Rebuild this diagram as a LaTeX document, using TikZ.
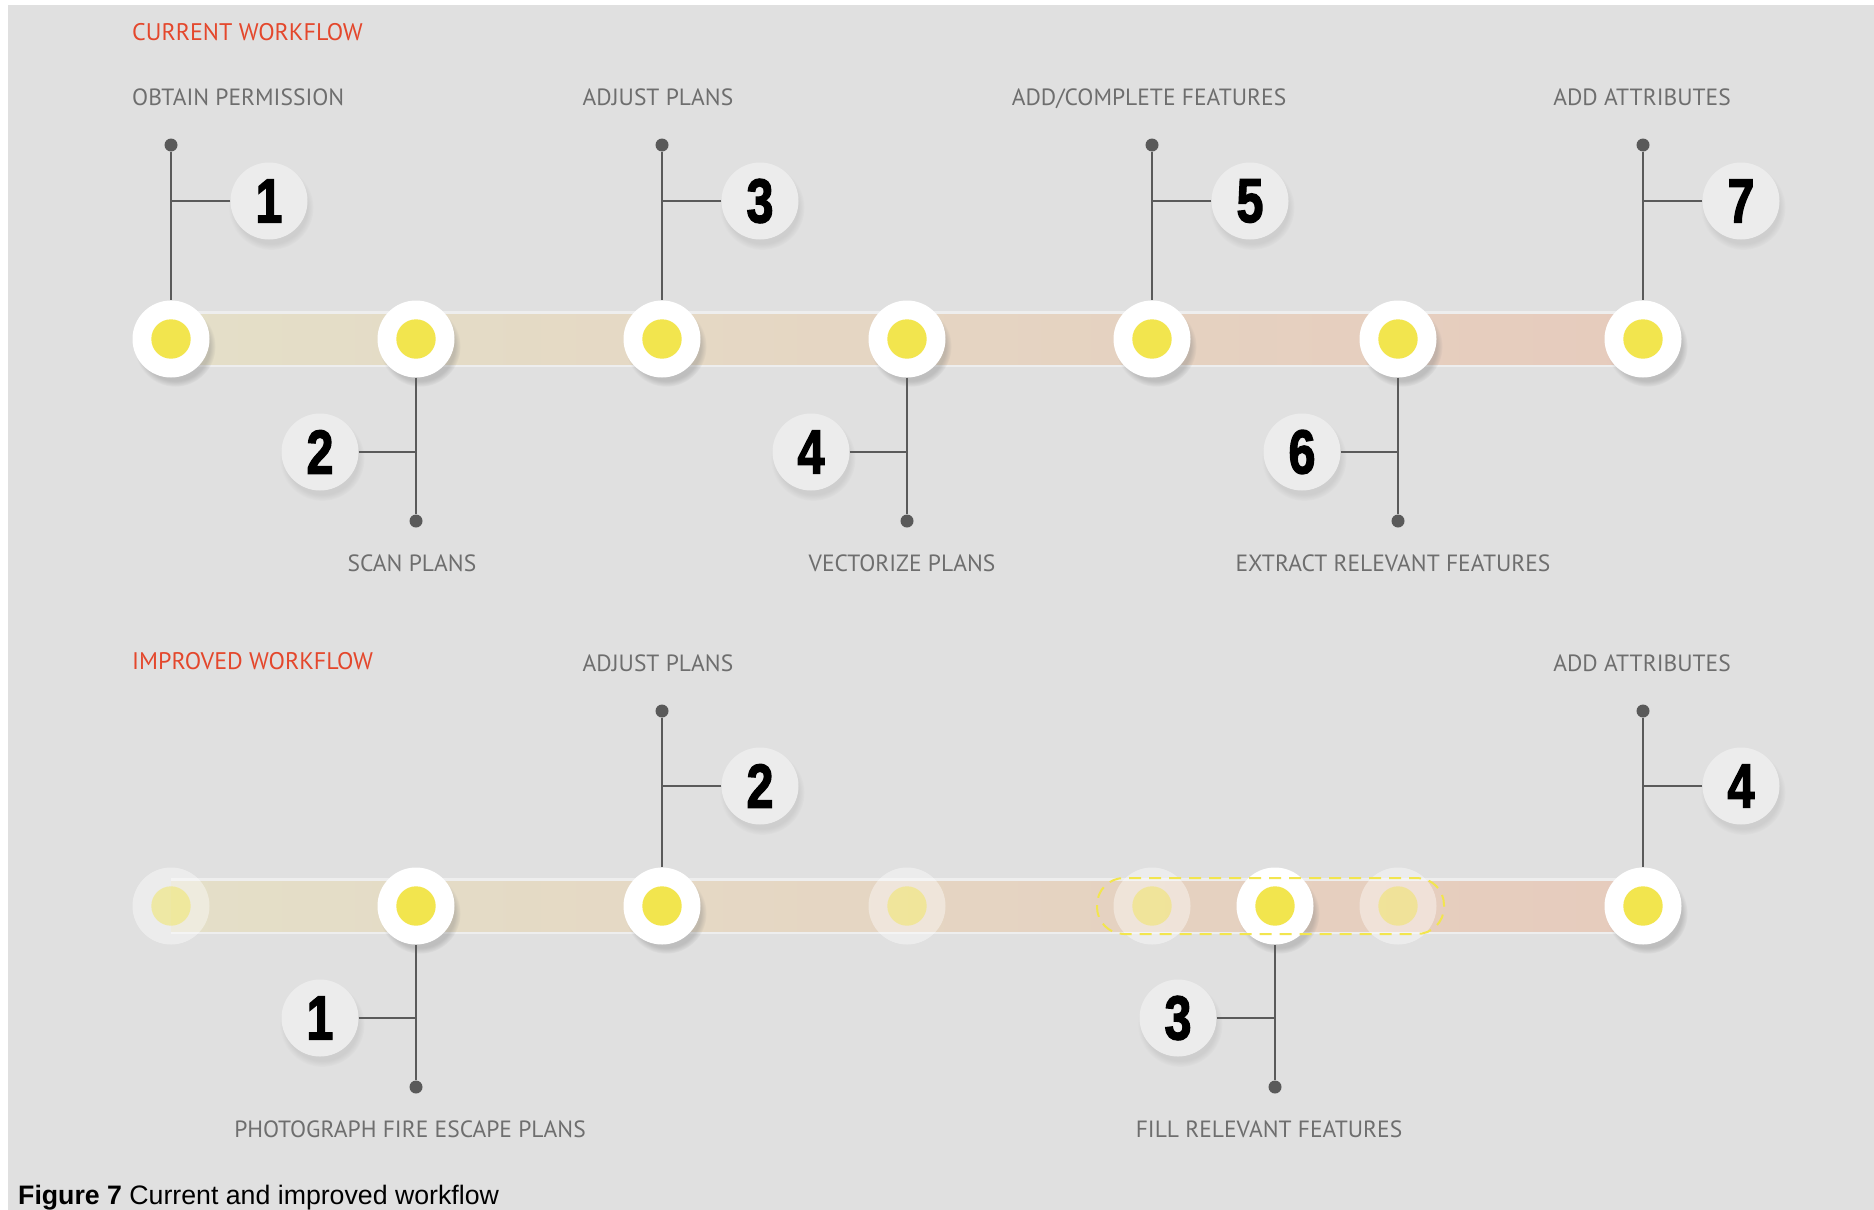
\documentclass[tikz,border=0pt]{standalone}
\usepackage{fontspec}
\usetikzlibrary{shadows,fadings}
\newfontfamily\labelfont{PT Sans}
\newfontfamily\numfont{Liberation Sans}[BoldFeatures={FakeBold=2.5}]
\newfontfamily\capfont{Liberation Sans}
\definecolor{bggray}{HTML}{E0E0E0}
\definecolor{dotyellow}{HTML}{F2E54E}
\definecolor{linegray}{HTML}{5A5A5A}
\definecolor{labelgray}{HTML}{6E6E6E}
\definecolor{headred}{HTML}{E4472C}
\definecolor{numfill}{HTML}{ECECEC}
\definecolor{bandleft}{HTML}{E4DFC8}
\definecolor{bandmid}{HTML}{E6D6C4}
\definecolor{bandright}{HTML}{E6CBBD}
\newcommand{\stepnum}[1]{\scalebox{.78}[1]{#1}}
\tikzset{
  stopnode/.style={circle,fill=white,minimum size=77pt,inner sep=0pt,
    circular drop shadow={shadow xshift=4pt,shadow yshift=-7pt,opacity=.35,shadow scale=1.05},
    path picture={\fill[dotyellow] (path picture bounding box.center) circle (19.7pt);}},
  fadedstop/.style={circle,fill=white,fill opacity=.4,minimum size=77pt,inner sep=0pt,
    path picture={\fill[dotyellow,fill opacity=.45] (path picture bounding box.center) circle (19.7pt);}},
  numnode/.style={circle,fill=numfill,minimum size=77pt,inner sep=0pt,
    circular drop shadow={shadow xshift=2pt,shadow yshift=-6pt,opacity=.18},
    font=\numfont\bfseries\fontsize{62}{62}\selectfont},
  dotend/.style={circle,fill=linegray,minimum size=13pt,inner sep=0pt},
  steplabel/.style={text=labelgray,inner sep=0pt,text depth=0pt,font=\labelfont\fontsize{23.5}{23.5}\selectfont},
  heading/.style={text=headred,anchor=west,inner sep=0pt,text depth=0pt,font=\labelfont\fontsize{24}{24}\selectfont},
  link/.style={linegray,line width=2.5pt}
}
\begin{document}
\begin{tikzpicture}[x=1pt,y=-1pt]
\useasboundingbox (0,0) rectangle (1874,1210);
\fill[bggray] (8,5) rectangle (1874,1210);
% bands
\fill[white!45!bggray] (171,311) rectangle (1643,367);
\shade[left color=bandleft,middle color=bandmid,right color=bandright] (171,314) rectangle (1643,364);
\fill[white!45!bggray] (171,878) rectangle (1643,934);
\shade[left color=bandleft,middle color=bandmid,right color=bandright] (171,881) rectangle (1643,931);

% current workflow
\node[heading] (cur) at (132,32){CURRENT WORKFLOW};
\node[stopnode] (c1) at (171,339){};
\node[stopnode] (c2) at (416,339){};
\node[stopnode] (c3) at (662,339){};
\node[stopnode] (c4) at (907,339){};
\node[stopnode] (c5) at (1152,339){};
\node[stopnode] (c6) at (1398,339){};
\node[stopnode] (c7) at (1643,339){};
\node[dotend] (cd1) at (171,145){};
\node[dotend] (cd2) at (416,521){};
\node[dotend] (cd3) at (662,145){};
\node[dotend] (cd4) at (907,521){};
\node[dotend] (cd5) at (1152,145){};
\node[dotend] (cd6) at (1398,521){};
\node[dotend] (cd7) at (1643,145){};
\node[numnode] (cn1) at (269,201){\stepnum{1}};
\node[numnode] (cn2) at (320,452){\stepnum{2}};
\node[numnode] (cn3) at (760,201){\stepnum{3}};
\node[numnode] (cn4) at (811,452){\stepnum{4}};
\node[numnode] (cn5) at (1250,201){\stepnum{5}};
\node[numnode] (cn6) at (1302,452){\stepnum{6}};
\node[numnode] (cn7) at (1741,201){\stepnum{7}};
\coordinate (cb1) at (171,201);
\coordinate (cb2) at (416,452);
\coordinate (cb3) at (662,201);
\coordinate (cb4) at (907,452);
\coordinate (cb5) at (1152,201);
\coordinate (cb6) at (1398,452);
\coordinate (cb7) at (1643,201);
\node[steplabel,anchor=west] (cl1) at (132,97){OBTAIN PERMISSION};
\node[steplabel] (cl2) at (412,563){SCAN PLANS};
\node[steplabel] (cl3) at (658,97){ADJUST PLANS};
\node[steplabel] (cl4) at (902,563){VECTORIZE PLANS};
\node[steplabel] (cl5) at (1149,97){ADD/COMPLETE FEATURES};
\node[steplabel] (cl6) at (1393,563){EXTRACT RELEVANT FEATURES};
\node[steplabel] (cl7) at (1642,97){ADD ATTRIBUTES};

% improved workflow
\node[heading] (imp) at (132,661){IMPROVED WORKFLOW};
\node[fadedstop] (i1) at (171,906){};
\node[stopnode] (i2) at (416,906){};
\node[stopnode] (i3) at (662,906){};
\node[fadedstop] (i4) at (907,906){};
\node[fadedstop] (i5) at (1152,906){};
\node[stopnode] (i6) at (1275,906){};
\node[fadedstop] (i7) at (1398,906){};
\node[stopnode] (i8) at (1643,906){};
\node[dotend] (id1) at (416,1087){};
\node[dotend] (id2) at (662,711){};
\node[dotend] (id3) at (1275,1087){};
\node[dotend] (id4) at (1643,711){};
\node[numnode] (in1) at (320,1018){\stepnum{1}};
\node[numnode] (in2) at (760,786){\stepnum{2}};
\node[numnode] (in3) at (1178,1018){\stepnum{3}};
\node[numnode] (in4) at (1741,786){\stepnum{4}};
\coordinate (ib1) at (416,1018);
\coordinate (ib2) at (662,786);
\coordinate (ib3) at (1275,1018);
\coordinate (ib4) at (1643,786);
\node[steplabel] (il1) at (410,1129){PHOTOGRAPH FIRE ESCAPE PLANS};
\node[steplabel] (il2) at (658,663){ADJUST PLANS};
\node[steplabel] (il3) at (1269,1129){FILL RELEVANT FEATURES};
\node[steplabel] (il4) at (1642,663){ADD ATTRIBUTES};

\foreach \from/\to in {cd1/c1,c2/cd2,cd3/c3,c4/cd4,cd5/c5,c6/cd6,cd7/c7,
  cn1/cb1,cn2/cb2,cn3/cb3,cn4/cb4,cn5/cb5,cn6/cb6,cn7/cb7,
  i2/id1,id2/i3,i6/id3,id4/i8,in1/ib1,in2/ib2,in3/ib3,in4/ib4}
  \draw[link] (\from) -- (\to);

\draw[dotyellow,line width=2pt,dash pattern=on 12pt off 8pt,rounded corners=27pt] (1097,878) rectangle (1444,934);

\node[anchor=base west,inner sep=0pt,font=\capfont\fontsize{26.7}{26.7}\selectfont] (cap) at (18,1204){\textbf{Figure 7} Current and improved workflow};
\end{tikzpicture}
\end{document}
